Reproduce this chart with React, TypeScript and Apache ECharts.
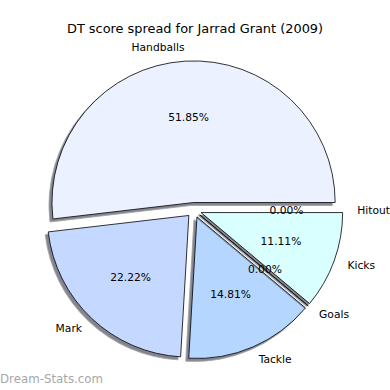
import React, { useEffect, useRef } from "react";
import * as echarts from "echarts";

const TITLE = "DT score spread for Jarrad Grant (2009)";
const WATERMARK = "Dream-Stats.com";
const categories = ["Handballs", "Mark", "Tackle", "Goals", "Kicks", "Hitout"];
const values = [14, 6, 4, 0, 3, 0];
const colors = ["#EBF1FF", "#C5D8FF", "#B5D6FF", "#C8E8FF", "#D9FFFF", "#E0F0FF"];

const FONT = "DejaVu Sans";
const R = 141.6;
const CENTER = [194, 210];
const OFFSET = 7.5;
const LABEL_SIZE = 10.7;

export default function App() {
  const ref = useRef<HTMLDivElement>(null);
  useEffect(() => {
    if (!ref.current) return;
    const chart = echarts.init(ref.current, undefined, { renderer: "svg" });
    const total = values.reduce((a, b) => a + b, 0);
    const sliceData = categories.map((name, i) => ({
      name,
      value: values[i],
      selected: true,
      itemStyle: { color: colors[i] },
    }));
    const labelData = categories.map((name, i) => ({
      name,
      value: values[i],
      selected: true,
    }));
    chart.setOption({
      animation: false,
      title: {
        text: TITLE,
        left: "center",
        top: 17,
        textStyle: { fontFamily: FONT, fontSize: 12.9, fontWeight: "normal", color: "#000" },
      },
      graphic: [
        {
          type: "text",
          left: 0,
          top: 373,
          style: { text: WATERMARK, fill: "#a8a8a8", font: `11.8px '${FONT}'` },
        },
      ],
      series: [
        {
          type: "pie",
          center: CENTER,
          radius: R,
          startAngle: 0,
          clockwise: false,
          minAngle: 0,
          avoidLabelOverlap: false,
          stillShowZeroSum: true,
          selectedMode: "multiple",
          selectedOffset: OFFSET,
          silent: true,
          emphasis: { disabled: true, scale: false },
          itemStyle: {
            borderColor: "#000",
            borderWidth: 0.8,
            shadowColor: "rgba(30,35,45,0.55)",
            shadowBlur: 0,
            shadowOffsetX: -2.8,
            shadowOffsetY: 2.8,
          },
          select: { itemStyle: { borderColor: "#000", borderWidth: 0.8 } },
          label: {
            show: true,
            position: "outside",
            formatter: "{b}",
            fontFamily: FONT,
            fontSize: LABEL_SIZE,
            color: "#000",
            distanceToLabelLine: 0,
          },
          labelLine: { show: false, length: R * 0.1, length2: 0 },
          data: sliceData,
        },
        {
          type: "pie",
          center: CENTER,
          radius: 164,
          startAngle: 0,
          clockwise: false,
          minAngle: 0,
          avoidLabelOverlap: false,
          stillShowZeroSum: true,
          selectedMode: "multiple",
          selectedOffset: OFFSET,
          silent: true,
          emphasis: { disabled: true, scale: false },
          itemStyle: { color: "rgba(0,0,0,0)", borderWidth: 0 },
          select: { itemStyle: { color: "rgba(0,0,0,0)", borderWidth: 0 } },
          label: {
            show: true,
            position: "inside",
            formatter: (p: any) => ((p.value / total) * 100).toFixed(2) + "%",
            fontFamily: FONT,
            fontSize: LABEL_SIZE,
            color: "#000",
          },
          labelLine: { show: false },
          data: labelData,
        },
      ],
    });
    return () => chart.dispose();
  }, []);
  return (
    <div
      ref={ref}
      style={{ position: "fixed", left: 0, top: 0, width: 390, height: 390, background: "#fff" }}
    />
  );
}
